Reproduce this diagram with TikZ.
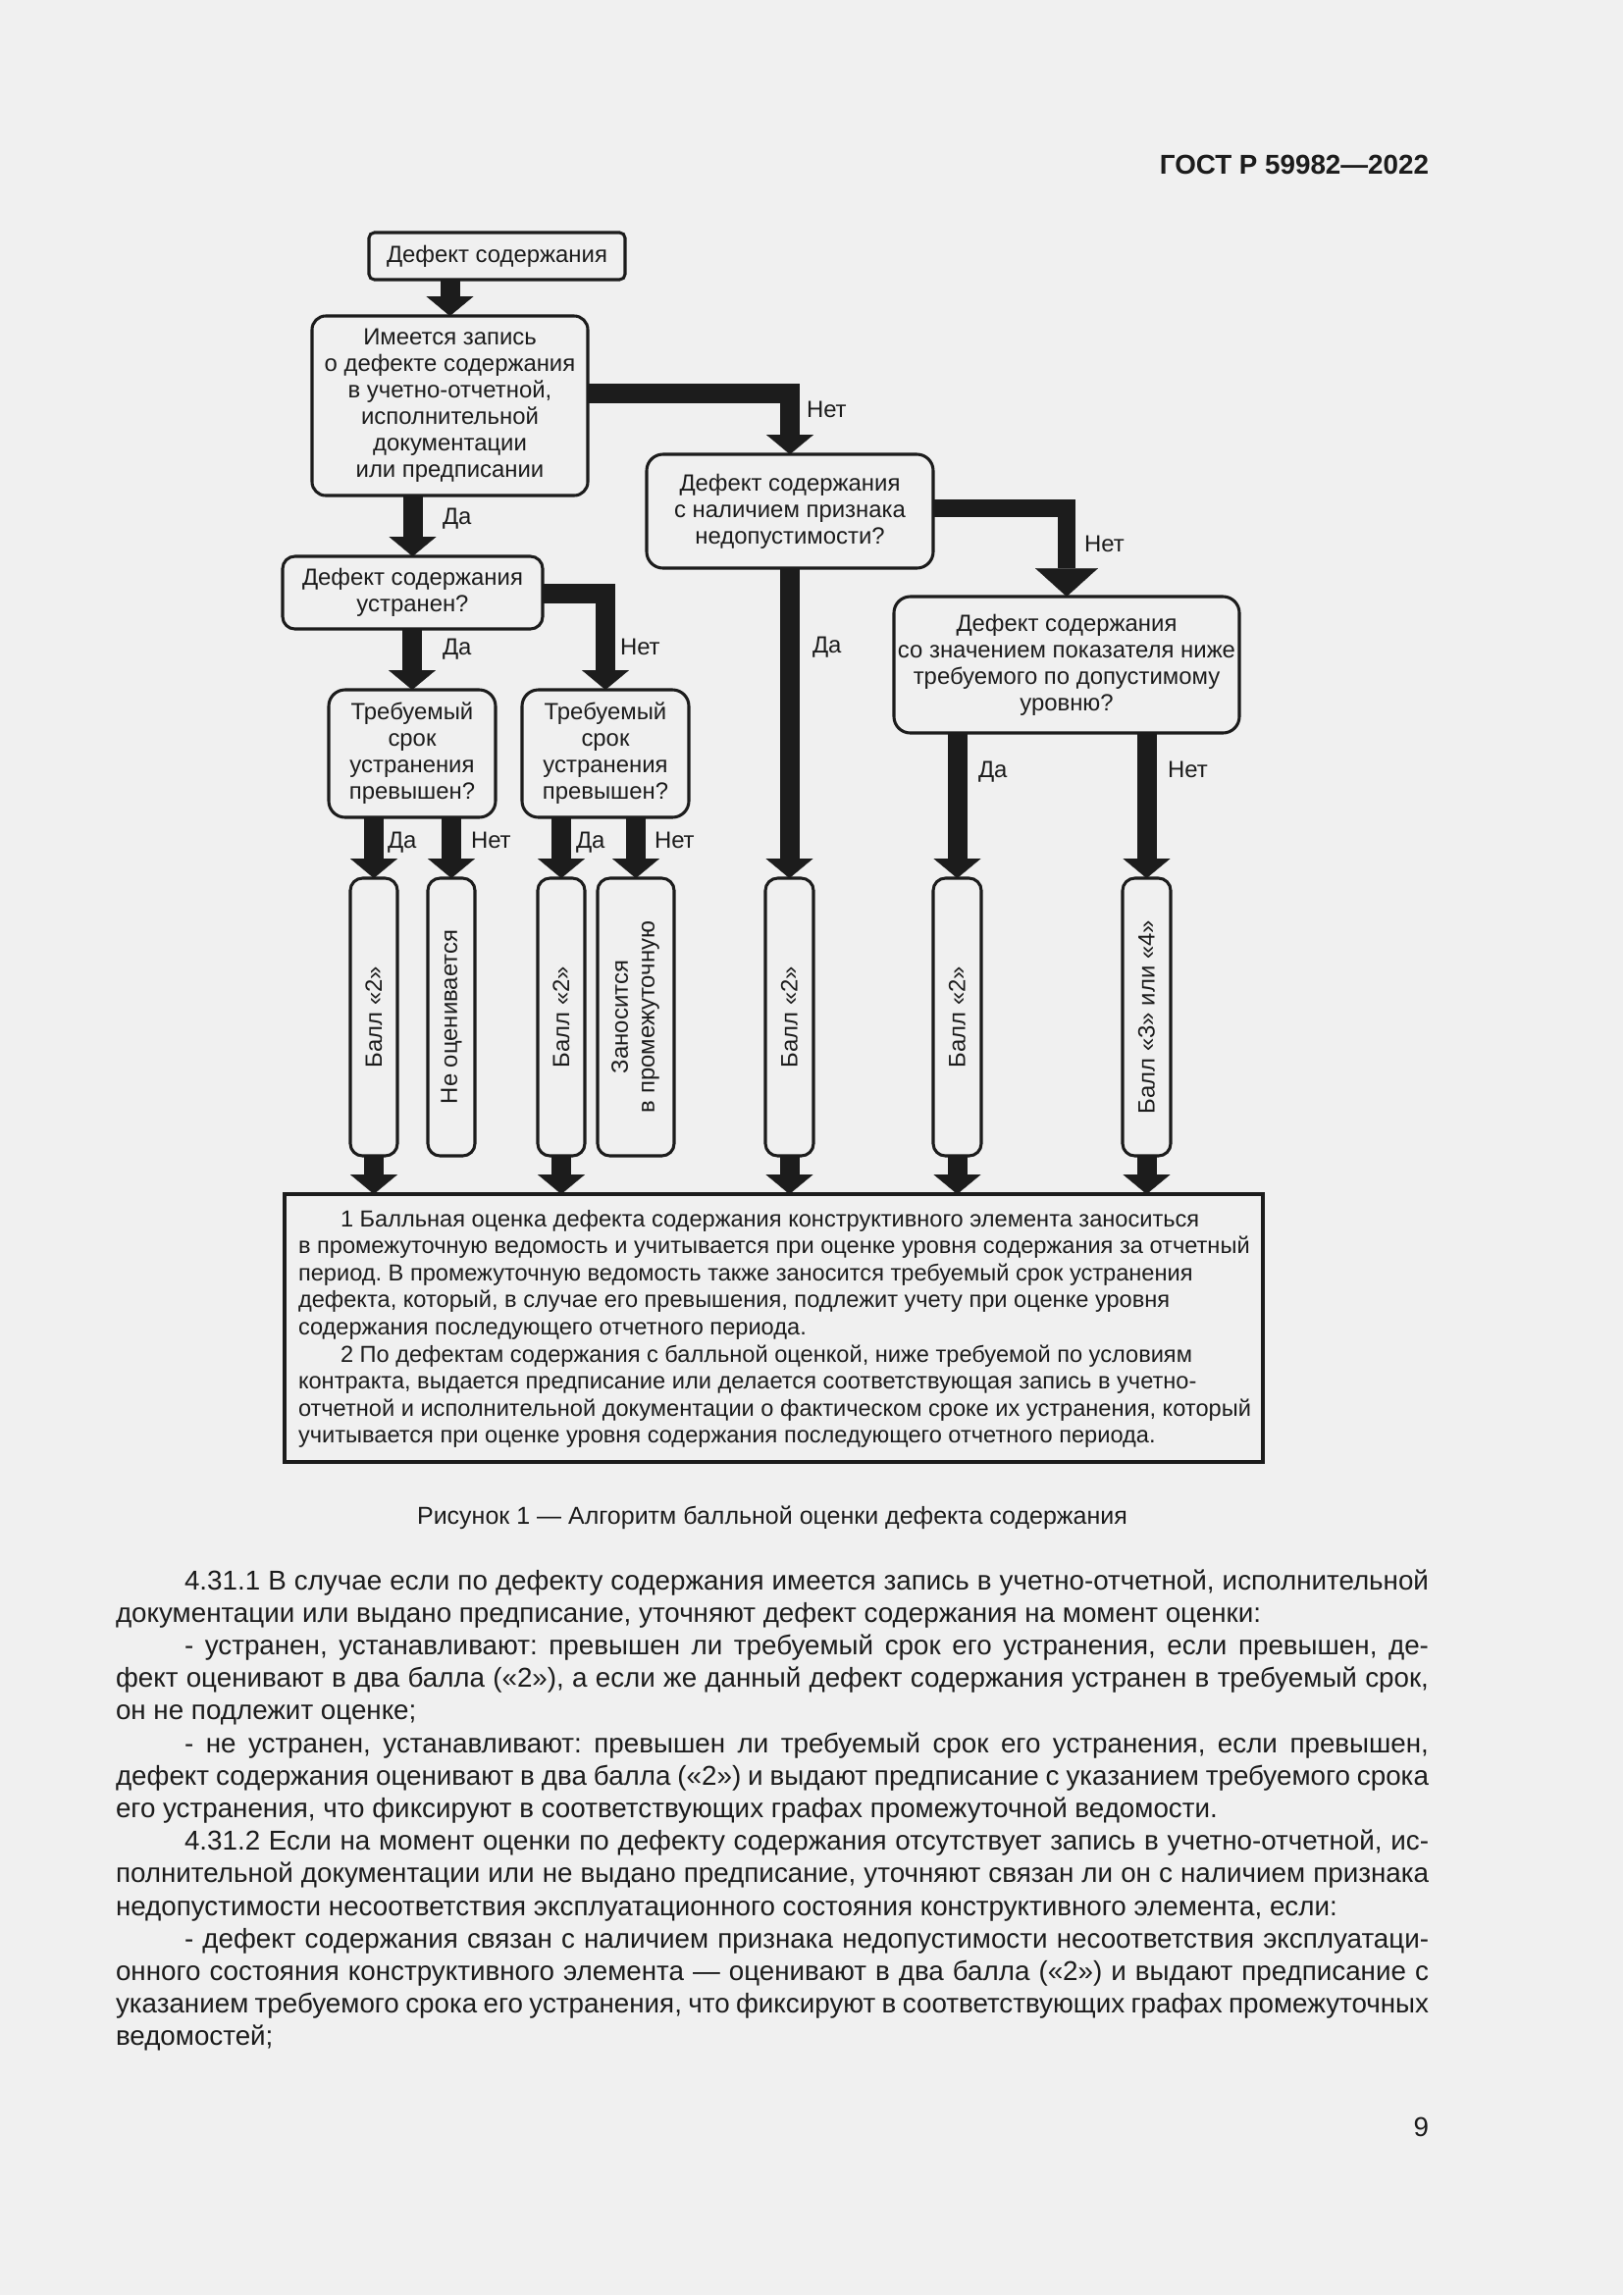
\documentclass[tikz,border=0pt]{standalone}
\usepackage{fontspec}
\setmainfont{Liberation Sans}
\usetikzlibrary{arrows.meta}
\definecolor{pagebg}{RGB}{240,240,240}
\definecolor{ink}{RGB}{28,28,28}
\frenchspacing
\newcommand{\diagf}{\fontsize{8.6pt}{9.7pt}\selectfont}
\newcommand{\notef}{\fontsize{8.5pt}{10pt}\selectfont}
\newcommand{\bodyf}{\fontsize{10pt}{11.9pt}\selectfont}
\newcommand{\capf}{\fontsize{9pt}{10.8pt}\selectfont}
\newcommand{\jfull}[1]{\makebox[481.7pt][s]{#1}}
\newcommand{\jind}[1]{\makebox[456.5pt][s]{#1}}
\begin{document}
\begin{tikzpicture}[x=0.36pt,y=-0.36pt,
  every node/.style={inner sep=0pt,outer sep=0pt,text=ink},
  box/.style={draw=ink,line width=1.1pt,align=center,font=\diagf},
  tallbox/.style={box,minimum height=101.88pt,rounded corners=4.5pt},
  conn/.style={draw=ink,line width=7.2pt,line join=miter,
     -{Triangle[width=17.3pt,length=7.2pt,line width=0.1pt]}},
  bigconn/.style={draw=ink,line width=6.8pt,line join=miter,
     -{Triangle[width=23pt,length=10.4pt,line width=0.1pt]}},
  lbl/.style={anchor=base west,font=\diagf},
  bline/.style={anchor=base west,font=\bodyf},
  nline/.style={anchor=base west,font=\notef}]
\fill[pagebg] (0,0) rectangle (1654,2339);
\useasboundingbox (0,0) rectangle (1654,2339);

% header and page number
\node[anchor=base east,font=\fontsize{10pt}{12pt}\selectfont\bfseries] (hdr) at (1456,177) {ГОСТ Р 59982—2022};
\node[anchor=base east,font=\bodyf] (pgno) at (1456,2177) {9};

% decision boxes
\node[box,rounded corners=2pt,minimum width=93.96pt,minimum height=17.28pt] (T0) at (506.5,261) {Дефект содержания};
\node[box,rounded corners=5pt,minimum width=101.16pt,minimum height=65.88pt] (B1) at (458.5,413.5)
  {Имеется запись\\о дефекте содержания\\в учетно-отчетной,\\исполнительной\\документации\\или предписании};
\node[box,rounded corners=4.5pt,minimum width=95.4pt,minimum height=26.64pt] (B2) at (420.5,604)
  {Дефект содержания\\устранен?};
\node[box,rounded corners=6pt,minimum width=105.12pt,minimum height=41.76pt] (B3) at (805,521)
  {Дефект содержания\\с наличием признака\\недопустимости?};
\node[box,rounded corners=6pt,minimum width=61.2pt,minimum height=46.8pt] (B4a) at (420,768)
  {Требуемый\\срок\\устранения\\превышен?};
\node[box,rounded corners=6pt,minimum width=61.2pt,minimum height=46.8pt] (B4b) at (617,768)
  {Требуемый\\срок\\устранения\\превышен?};
\node[box,rounded corners=6pt,minimum width=126.72pt,minimum height=50.04pt] (B5) at (1087,677.5)
  {Дефект содержания\\со значением показателя ниже\\требуемого по допустимому\\уровню?};

% result boxes (vertical text)
\node[tallbox,minimum width=17.28pt] (R1) at (381,1036.5) {\rotatebox{90}{Балл «2»}};
\node[tallbox,minimum width=17.28pt] (R2) at (460,1036.5) {\rotatebox{90}{Не оценивается}};
\node[tallbox,minimum width=17.28pt] (R3) at (572,1036.5) {\rotatebox{90}{Балл «2»}};
\node[tallbox,minimum width=28.08pt] (R4) at (648,1036.5)
  {\rotatebox{90}{\begin{tabular}{@{}c@{}}Заносится\\в промежуточную\end{tabular}}};
\node[tallbox,minimum width=17.64pt] (R5) at (804.5,1036.5) {\rotatebox{90}{Балл «2»}};
\node[tallbox,minimum width=17.64pt] (R6) at (975.5,1036.5) {\rotatebox{90}{Балл «2»}};
\node[tallbox,minimum width=17.64pt] (R7) at (1168.5,1036.5) {\rotatebox{90}{Балл «3» или «4»}};

% note box
\node[draw=ink,line width=1.3pt,minimum width=358.92pt,minimum height=98.28pt] (N) at (788.5,1353.5) {};

% connectors
\coordinate (c1) at (599,401);
\coordinate (c2) at (553,604.5);
\coordinate (c3) at (951,518);
\draw[conn] (T0.south -| B1.north) -- (B1.north);
\draw[conn] (c1) -| (B3.north);
\draw[conn] (B1.south -| B2.north) -- (B2.north);
\draw[conn] (c2) -| (B4b.north);
\draw[conn] (B2.south -| B4a.north) -- (B4a.north);
\draw[conn] (B4a.south -| R1.north) -- (R1.north);
\draw[conn] (B4a.south -| R2.north) -- (R2.north);
\draw[conn] (B4b.south -| R3.north) -- (R3.north);
\draw[conn] (B4b.south -| R4.north) -- (R4.north);
\draw[conn] (B3.south -| R5.north) -- (R5.north);
\draw[bigconn] (c3) -| (B5.north);
\draw[conn] (B5.south -| R6.north) -- (R6.north);
\draw[conn] (B5.south -| R7.north) -- (R7.north);
\foreach \r in {R1,R3,R5,R6,R7}
  \draw[conn] (\r.south) -- (\r.south |- N.north);

% connector labels
\node[lbl] (l1) at (822,425) {Нет};
\node[lbl] (l2) at (451,534) {Да};
\node[lbl] (l3) at (451,667) {Да};
\node[lbl] (l4) at (632,667) {Нет};
\node[lbl] (l5) at (828,665) {Да};
\node[lbl] (l6) at (1105,562) {Нет};
\node[lbl] (l7) at (395,864) {Да};
\node[lbl] (l8) at (480,864) {Нет};
\node[lbl] (l9) at (587,864) {Да};
\node[lbl] (l10) at (667,864) {Нет};
\node[lbl] (l11) at (997,792) {Да};
\node[lbl] (l12) at (1190,792) {Нет};

% note text
\node[nline] (n1) at (347,1250) {1 Балльная оценка дефекта содержания конструктивного элемента заноситься};
\node[nline] (n2) at (304,1277.6) {в промежуточную ведомость и учитывается при оценке уровня содержания за отчетный};
\node[nline] (n3) at (304,1305.2) {период. В промежуточную ведомость также заносится требуемый срок устранения};
\node[nline] (n4) at (304,1332.8) {дефекта, который, в случае его превышения, подлежит учету при оценке уровня};
\node[nline] (n5) at (304,1360.4) {содержания последующего отчетного периода.};
\node[nline] (n6) at (347,1388) {2 По дефектам содержания с балльной оценкой, ниже требуемой по условиям};
\node[nline] (n7) at (304,1415.6) {контракта, выдается предписание или делается соответствующая запись в учетно-};
\node[nline] (n8) at (304,1443.2) {отчетной и исполнительной документации о фактическом сроке их устранения, который};
\node[nline] (n9) at (304,1470.8) {учитывается при оценке уровня содержания последующего отчетного периода.};

% caption
\node[anchor=base,font=\capf] (cap) at (787,1553) {Рисунок 1 — Алгоритм балльной оценки дефекта содержания};

% body text
\node[bline] (p1) at (188,1620) {\jind{4.31.1 В случае если по дефекту содержания имеется запись в учетно-отчетной, исполнительной}};
\node[bline] (p2) at (118,1653.2) {документации или выдано предписание, уточняют дефект содержания на момент оценки:};
\node[bline] (p3) at (188,1686.4) {\jind{- устранен, устанавливают: превышен ли требуемый срок его устранения, если превышен, де-}};
\node[bline] (p4) at (118,1719.6) {\jfull{фект оценивают в два балла («2»), а если же данный дефект содержания устранен в требуемый срок,}};
\node[bline] (p5) at (118,1752.8) {он не подлежит оценке;};
\node[bline] (p6) at (188,1786) {\jind{- не устранен, устанавливают: превышен ли требуемый срок его устранения, если превышен,}};
\node[bline] (p7) at (118,1819.2) {\jfull{дефект содержания оценивают в два балла («2») и выдают предписание с указанием требуемого срока}};
\node[bline] (p8) at (118,1852.4) {его устранения, что фиксируют в соответствующих графах промежуточной ведомости.};
\node[bline] (p9) at (188,1885.6) {\jind{4.31.2 Если на момент оценки по дефекту содержания отсутствует запись в учетно-отчетной, ис-}};
\node[bline] (p10) at (118,1918.8) {\jfull{полнительной документации или не выдано предписание, уточняют связан ли он с наличием признака}};
\node[bline] (p11) at (118,1952) {недопустимости несоответствия эксплуатационного состояния конструктивного элемента, если:};
\node[bline] (p12) at (188,1985.2) {\jind{- дефект содержания связан с наличием признака недопустимости несоответствия эксплуатаци-}};
\node[bline] (p13) at (118,2018.4) {\jfull{онного состояния конструктивного элемента — оценивают в два балла («2») и выдают предписание с}};
\node[bline] (p14) at (118,2051.6) {\jfull{указанием требуемого срока его устранения, что фиксируют в соответствующих графах промежуточных}};
\node[bline] (p15) at (118,2084.8) {ведомостей;};
\end{tikzpicture}
\end{document}
